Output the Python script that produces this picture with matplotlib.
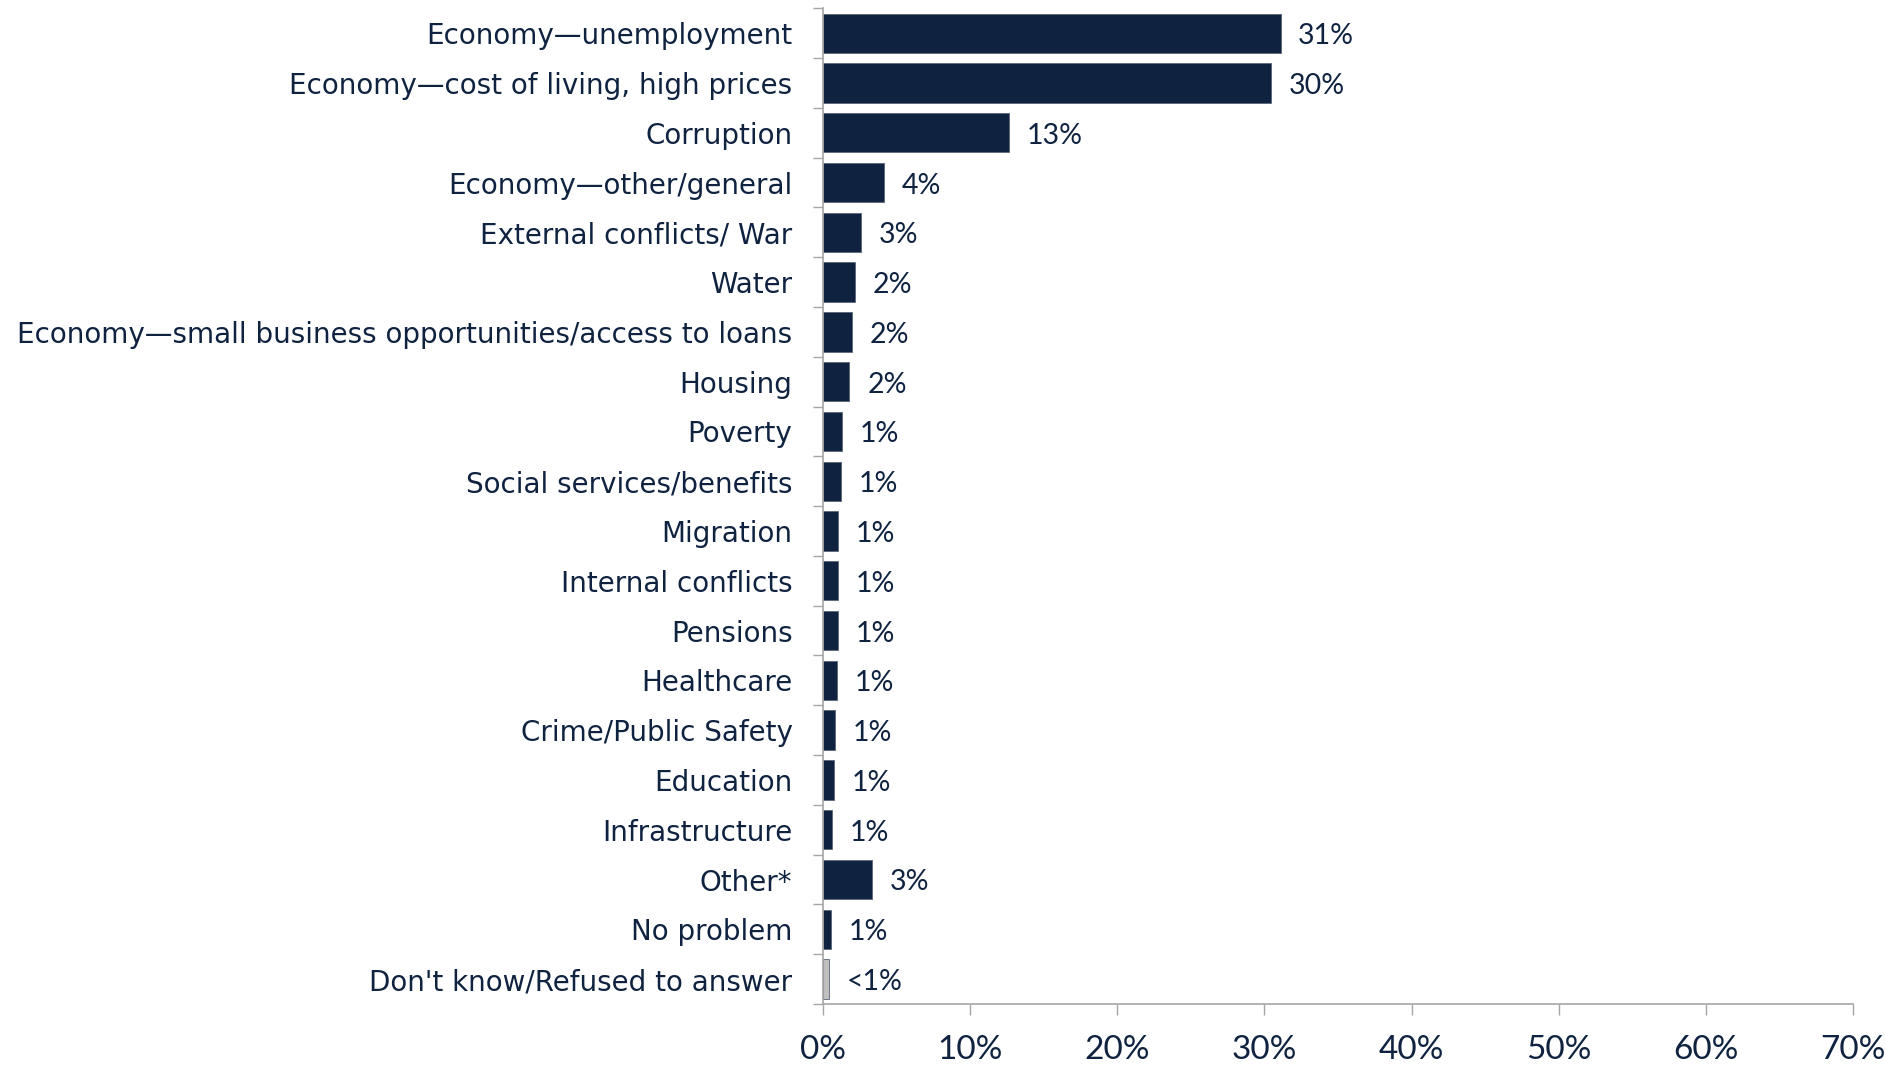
import matplotlib
matplotlib.use('Agg')
import matplotlib.pyplot as plt
import numpy as np

# data (percent)
categories = ['Economy\u2014unemployment', 'Economy\u2014cost of living, high prices', 'Corruption',
              'Economy\u2014other/general', 'External conflicts/ War', 'Water',
              'Economy\u2014small business opportunities/access to loans', 'Housing', 'Poverty',
              'Social services/benefits', 'Migration', 'Internal conflicts', 'Pensions',
              'Healthcare', 'Crime/Public Safety', 'Education', 'Infrastructure', 'Other*',
              'No problem', "Don't know/Refused to answer"]
values = [31.1, 30.45, 12.65, 4.18, 2.6, 2.15, 2.0, 1.8, 1.3, 1.2, 1.05, 1.05, 1.0,
          0.95, 0.85, 0.75, 0.6, 3.35, 0.55, 0.4]
labels = ['31%', '30%', '13%', '4%', '3%', '2%', '2%', '2%', '1%', '1%', '1%', '1%', '1%',
          '1%', '1%', '1%', '1%', '3%', '1%', '<1%']
xticks = [0, 10, 20, 30, 40, 50, 60, 70]

navy = '#0f2341'
grey = '#a6a6a6'
num_font = ['Lato', 'DejaVu Sans']

plt.rcParams['font.family'] = ['DejaVu Sans']

fig = plt.figure(figsize=(18.85, 10.66), dpi=100)
ax = fig.add_axes([0.4366, 0.0582, 0.5464, 0.9340])

y = np.arange(len(categories))
colors = [navy] * (len(categories) - 1) + ['#bfbfbf']
bars = ax.barh(y, values, height=0.79, color=colors, edgecolor='#5a6678', linewidth=0.6)

for b, lab in zip(bars, labels):
    ax.text(b.get_width() + 1.2, b.get_y() + b.get_height() / 2 + 0.06, lab,
            va='center', ha='left', fontsize=20.5, color=navy, family=num_font)

ax.set_xlim(0, 70)
ax.set_ylim(len(categories) - 0.5, -0.5)

ax.set_yticks(y)
ax.set_yticklabels(categories)
ax.set_yticks(np.arange(len(categories) + 1) - 0.5, minor=True)
ax.tick_params(axis='y', which='major', length=0, pad=22, labelsize=20, labelcolor=navy)
ax.tick_params(axis='y', which='minor', length=7.5, width=1, color=grey)

ax.set_xticks(xticks)
ax.set_xticklabels([f'{t}%' for t in xticks], family=num_font)
ax.tick_params(axis='x', length=8, width=1, color=grey, pad=14, labelsize=24, labelcolor=navy)

for s in ['top', 'right']:
    ax.spines[s].set_visible(False)
for s in ['left', 'bottom']:
    ax.spines[s].set_color(grey)
    ax.spines[s].set_linewidth(1.2)

fig.savefig('out.png', dpi=100)
